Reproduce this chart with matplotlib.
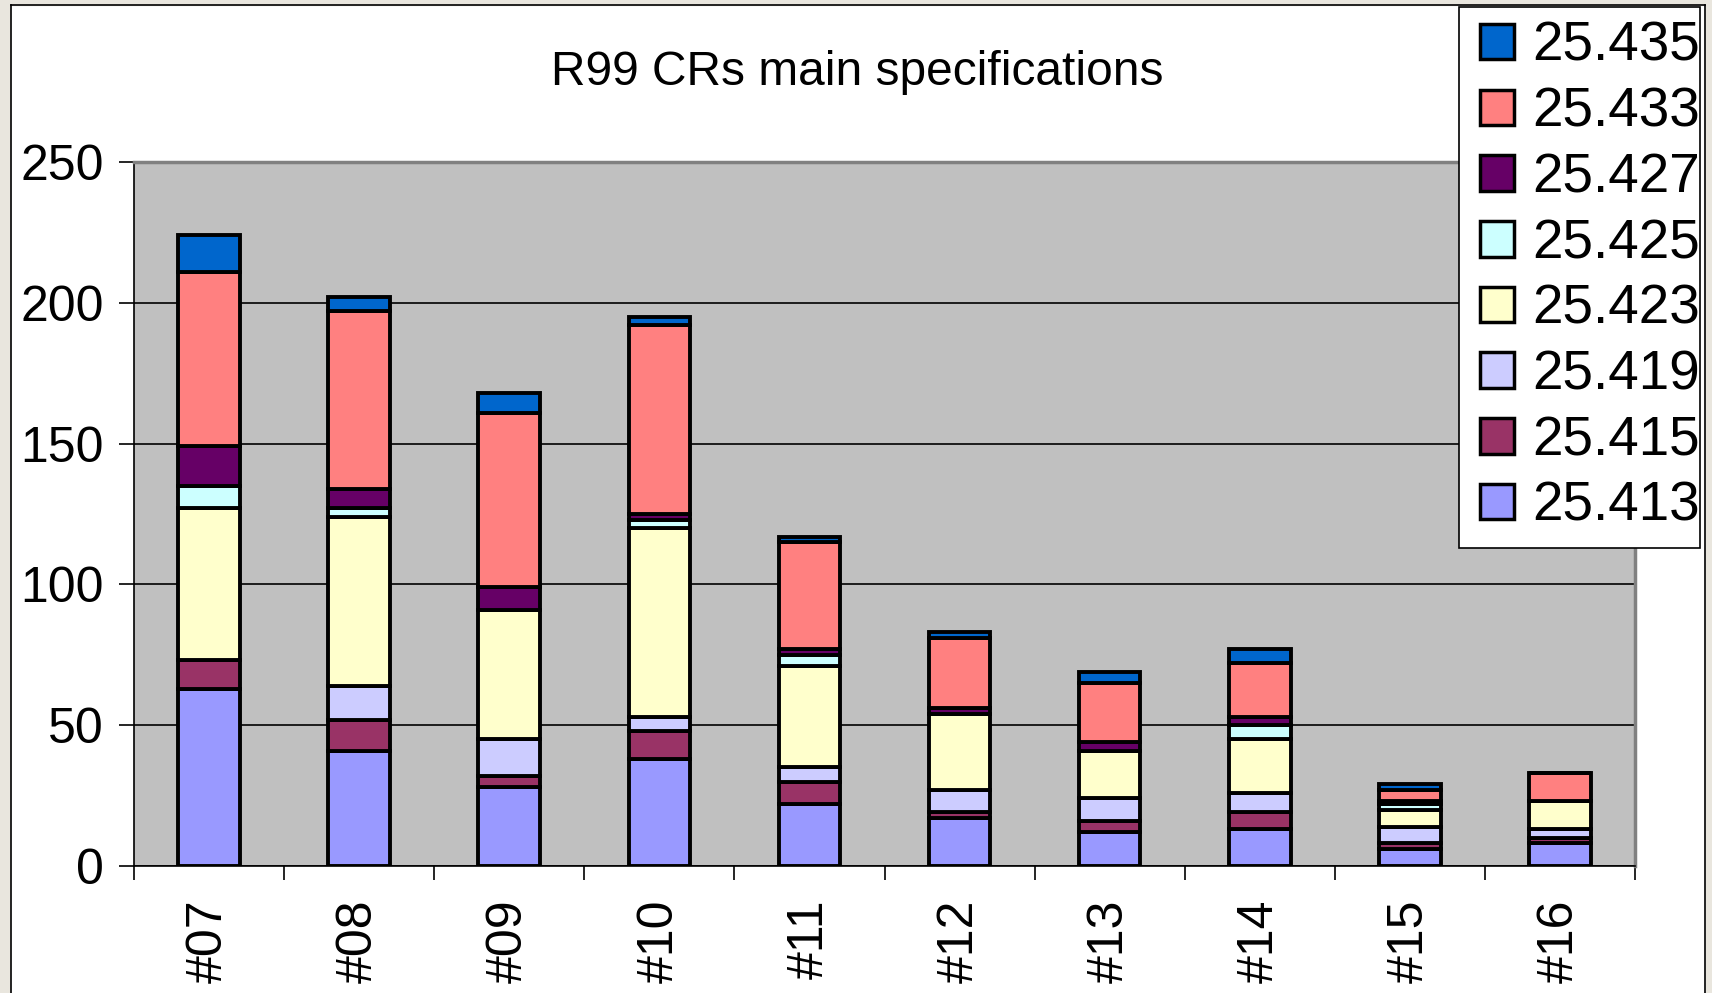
import matplotlib.pyplot as plt
from matplotlib.patches import Rectangle
import numpy as np

plt.rcParams["font.family"] = ["Liberation Sans", "DejaVu Sans"]

# categories (CR batches) and counts per specification
categories = ["#07", "#08", "#09", "#10", "#11", "#12", "#13", "#14", "#15", "#16"]
series_names = ["25.413", "25.415", "25.419", "25.423", "25.425", "25.427", "25.433", "25.435"]
s413 = [63, 41, 28, 38, 22, 17, 12, 13, 6, 8]
s415 = [10, 11, 4, 10, 8, 2, 4, 6, 2, 2]
s419 = [0, 12, 13, 5, 5, 8, 8, 7, 6, 3]
s423 = [54, 60, 46, 67, 36, 27, 17, 19, 6, 10]
s425 = [8, 3, 0, 3, 4, 0, 0, 5, 2, 0]
s427 = [14, 7, 8, 2, 2, 2, 3, 3, 1, 0]
s433 = [62, 63, 62, 67, 38, 25, 21, 19, 4, 10]
s435 = [13, 5, 7, 3, 2, 2, 4, 5, 2, 0]
series_values = [s413, s415, s419, s423, s425, s427, s433, s435]
colors = ["#9999FF", "#993366", "#CCCCFF", "#FFFFCC", "#CCFFFF", "#660066", "#FF8080", "#0066CC"]

W, H = 1712, 993
fig = plt.figure(figsize=(W / 100, H / 100), dpi=100)
fig.patch.set_facecolor("white")

# beige window frame around the chart
beige = "#E9E6DE"
fig.patches.append(Rectangle((0, 0), 10 / W, 1, transform=fig.transFigure, color=beige, zorder=0))
fig.patches.append(Rectangle((1706 / W, 0), 6 / W, 1, transform=fig.transFigure, color=beige, zorder=0))
fig.patches.append(Rectangle((0, 1 - 5 / H), 1, 5 / H, transform=fig.transFigure, color=beige, zorder=0))
fig.lines.append(plt.Line2D([11 / W, 11 / W], [0, 1 - 5 / H], transform=fig.transFigure, color="black", lw=1.2))
fig.lines.append(plt.Line2D([1705 / W, 1705 / W], [0, 1 - 5 / H], transform=fig.transFigure, color="black", lw=1.2))
fig.lines.append(plt.Line2D([11 / W, 1705 / W], [1 - 5 / H, 1 - 5 / H], transform=fig.transFigure, color="black", lw=1.2))

ax = fig.add_axes([134 / W, 1 - 866 / H, (1635 - 134) / W, (866 - 162) / H])
ax.set_facecolor("#C0C0C0")

x = np.arange(len(categories))
bottom = np.zeros(len(categories))
handles = []
for name, vals, col in zip(series_names, series_values, colors):
    bars = ax.bar(x, vals, width=0.41, bottom=bottom, color=col,
                  edgecolor="black", linewidth=2.8, label=name, zorder=3)
    handles.append(bars)
    bottom += np.array(vals)

ax.set_xlim(-0.5, len(categories) - 0.5)
ax.set_ylim(0, 250)
ax.set_yticks(np.arange(0, 251, 50))
ax.yaxis.grid(True, color="black", linewidth=1.2, zorder=1)
ax.set_axisbelow(True)

ax.set_xticks(x)
ax.set_xticklabels(categories, rotation=90)
ax.set_xticks(np.arange(-0.5, len(categories), 1), minor=True)
ax.tick_params(axis="x", which="major", length=0, pad=24, labelsize=36)
ax.tick_params(axis="x", which="minor", length=10, width=1.2, direction="out")
ax.tick_params(axis="y", length=10.5, width=1.2, pad=11, labelsize=36)

for side in ["top", "right"]:
    ax.spines[side].set_color("#808080")
    ax.spines[side].set_linewidth(2.5)
for side in ["left", "bottom"]:
    ax.spines[side].set_color("black")
    ax.spines[side].set_linewidth(1.2)

fig.text(857 / W, 1 - 72 / H, "R99 CRs main specifications", ha="center", va="center", fontsize=34.5)

# legend box drawn separately so the entries can sit off-centre like the original
fig.patches.append(Rectangle((1459 / W, 1 - 548 / H), (1700 - 1459) / W, (548 - 7) / H,
                             transform=fig.transFigure, facecolor="white",
                             edgecolor="black", linewidth=1.2, zorder=5))
leg = fig.legend(handles[::-1], series_names[::-1], loc="upper left",
                 bbox_to_anchor=(1469 / W, 1 - 10 / H), bbox_transform=fig.transFigure,
                 fontsize=39.5, frameon=False, borderpad=0.2,
                 borderaxespad=0, labelspacing=0.25, handlelength=0.62,
                 handleheight=0.62, handletextpad=0.33)
leg.set_zorder(6)
for p in leg.get_patches():
    p.set_linewidth(2.5)

fig.savefig("out.png", dpi=100)
